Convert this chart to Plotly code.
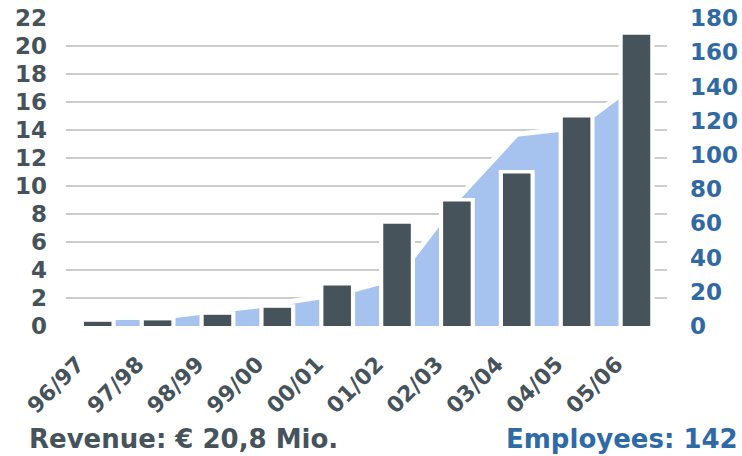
import plotly.graph_objects as go

years = ["96/97", "97/98", "98/99", "99/00", "00/01", "01/02", "02/03", "03/04", "04/05", "05/06"]
revenue = [0.3, 0.4, 0.8, 1.3, 2.9, 7.3, 8.9, 10.9, 14.9, 20.8]
employees = [5, 5, 9, 13, 18.5, 28, 74, 112, 116, 142]
rev_ticks = list(range(0, 23, 2))
emp_ticks = list(range(0, 181, 20))

DARK = "#46535b"
BLUE_TXT = "#2f6aa6"
AREA = "#a5c3ee"
GRID = "#cccccc"
FONT = "DejaVu Sans"

pad = 0.25  # white halo above bars (style)

fig = go.Figure()

# employees area (base axis, drawn beneath)
fig.add_trace(go.Scatter(
    x=years, y=employees, mode="lines", fill="tozeroy",
    fillcolor=AREA, line=dict(color="white", width=5),
    yaxis="y", hoverinfo="skip", showlegend=False))

# white halo bars
fig.add_trace(go.Bar(
    x=years, y=[v + pad for v in revenue], width=0.6,
    marker=dict(color="white", line=dict(width=0)),
    yaxis="y2", hoverinfo="skip", showlegend=False))

# revenue bars
fig.add_trace(go.Bar(
    x=years, y=revenue, width=0.46,
    marker=dict(color=DARK, line=dict(width=0)),
    yaxis="y2", showlegend=False))

fig.update_layout(
    width=742, height=456,
    margin=dict(l=66, r=75, t=18, b=130, autoexpand=False),
    paper_bgcolor="white", plot_bgcolor="white",
    barmode="overlay",
    xaxis=dict(
        type="category", range=[-0.53, 9.51],
        showgrid=False, zeroline=False, showline=False, ticks="",
        tickangle=-45, ticklabelshift=-20, ticklabelstandoff=20,
        tickfont=dict(family=FONT, size=22, color=DARK, weight="bold")),
    yaxis=dict(
        side="right", range=[0, 180], tickvals=emp_ticks,
        showgrid=False, zeroline=False, showline=False, ticks="",
        ticklabelstandoff=22,
        tickfont=dict(family=FONT, size=23, color=BLUE_TXT, weight="bold")),
    yaxis2=dict(
        side="left", overlaying="y", range=[0, 22], tickvals=rev_ticks,
        showgrid=True, gridcolor=GRID, gridwidth=2,
        zeroline=True, zerolinecolor="white", zerolinewidth=2,
        showline=False, ticks="", ticklabelstandoff=18,
        tickfont=dict(family=FONT, size=23, color=DARK, weight="bold")),
    annotations=[
        dict(text="Revenue: € 20,8 Mio.", xref="paper", yref="paper",
             x=(27 - 66) / 601, y=(326 - 439) / 308, xanchor="left", yanchor="middle",
             showarrow=False, font=dict(family=FONT, size=26, color=DARK, weight="bold")),
        dict(text="Employees: 142", xref="paper", yref="paper",
             x=(740 - 66) / 601, y=(326 - 439) / 308, xanchor="right", yanchor="middle",
             showarrow=False, font=dict(family=FONT, size=26, color=BLUE_TXT, weight="bold")),
    ],
)

fig.write_html("out.html")
